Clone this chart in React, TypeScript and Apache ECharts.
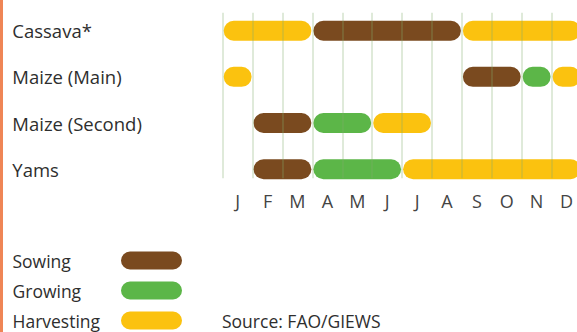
import React, { useEffect, useRef } from "react";
import * as echarts from "echarts";

const months = ["J", "F", "M", "A", "M", "J", "J", "A", "S", "O", "N", "D"];
const crops = ["Cassava*", "Maize (Main)", "Maize (Second)", "Yams"];
const phases = ["Sowing", "Growing", "Harvesting"];
const phaseColors = ["#7a4a1f", "#5cb648", "#fbc20f"];

// [cropIndex, startMonth, endMonth] (months counted 0..12 from start of January)
const sowing = [
  [0, 3, 8],
  [1, 8, 10],
  [2, 1, 3],
  [3, 1, 3],
];
const growing = [
  [1, 10, 11],
  [2, 3, 5],
  [3, 3, 6],
];
const harvesting = [
  [0, 0, 3],
  [0, 8, 12],
  [1, 0, 1],
  [1, 11, 12],
  [2, 5, 7],
  [3, 6, 12],
];
const phaseData = [sowing, growing, harvesting];
const sourceText = "Source: FAO/GIEWS";

const FONT = "'Open Sans', 'Noto Sans', sans-serif";

export default function App() {
  const ref = useRef<HTMLDivElement>(null);
  useEffect(() => {
    document.body.style.margin = "0";
    const chart = echarts.init(ref.current!, null, { renderer: "svg" });
    const barH = 20;
    const series = phases.map((name, i) => ({
      type: "custom",
      name,
      data: phaseData[i],
      encode: { x: [1, 2], y: 0 },
      renderItem: (params: any, api: any) => {
        const row = api.value(0);
        const s = api.value(1);
        const e = api.value(2);
        const p1 = api.coord([s, row]);
        const p2 = api.coord([e, row]);
        return {
          type: "rect",
          shape: {
            x: p1[0] + 1,
            y: p1[1] - barH / 2,
            width: p2[0] - p1[0] - 2,
            height: barH,
            r: barH / 2,
          },
          style: { fill: phaseColors[i] },
        };
      },
    }));

    const legendTop = [260.5, 290.5, 320.5];
    const graphics: any[] = [
      {
        type: "rect",
        shape: { x: 0, y: 0, width: 3, height: 332 },
        style: { fill: "#ef8556" },
      },
    ];
    phases.forEach((p, i) => {
      graphics.push({
        type: "text",
        x: 12.5,
        y: legendTop[i] + 0.5,
        style: {
          text: p,
          fill: "#2e2e2e",
          font: `17.5px ${FONT}`,
          lineHeight: 17,
          verticalAlign: "middle",
          align: "left",
        },
      });
      graphics.push({
        type: "rect",
        shape: { x: 121, y: legendTop[i] - 9, width: 61, height: 18, r: 9 },
        style: { fill: phaseColors[i] },
      });
    });
    graphics.push({
      type: "text",
      x: 222,
      y: 321,
      style: {
        text: sourceText,
        fill: "#2e2e2e",
        font: `17.5px ${FONT}`,
        lineHeight: 17,
        verticalAlign: "middle",
        align: "left",
      },
    });

    chart.setOption({
      animation: false,
      backgroundColor: "#ffffff",
      grid: {
        left: 222.7,
        top: 12.7,
        width: 358.8,
        height: 165.6,
        containLabel: false,
        outerBoundsMode: "none",
      },
      xAxis: {
        type: "value",
        min: 0,
        max: 12,
        interval: 1,
        z: 10,
        axisLine: { show: false },
        axisTick: { show: false },
        splitLine: {
          show: true,
          lineStyle: { color: "rgba(130,175,110,0.32)", width: 1.6 },
        },
        axisLabel: {
          customValues: months.map((_, i) => i + 0.5),
          formatter: (v: number) => months[Math.floor(v)],
          margin: 14,
          fontSize: 18,
          fontFamily: FONT,
          color: "#444",
        },
      },
      yAxis: {
        type: "value",
        inverse: true,
        min: -0.39,
        max: 3.197,
        axisLine: { show: false },
        axisTick: { show: false },
        splitLine: { show: false },
        axisLabel: {
          customValues: [0, 1, 2, 3],
          formatter: (v: number) => crops[Math.round(v)],
          align: "left",
          margin: 210.4,
          fontSize: 18.5,
          fontFamily: FONT,
          color: "#2e2e2e",
        },
      },
      series,
      graphic: graphics,
    });
    return () => chart.dispose();
  }, []);
  return <div ref={ref} style={{ width: 577, height: 332 }} />;
}
